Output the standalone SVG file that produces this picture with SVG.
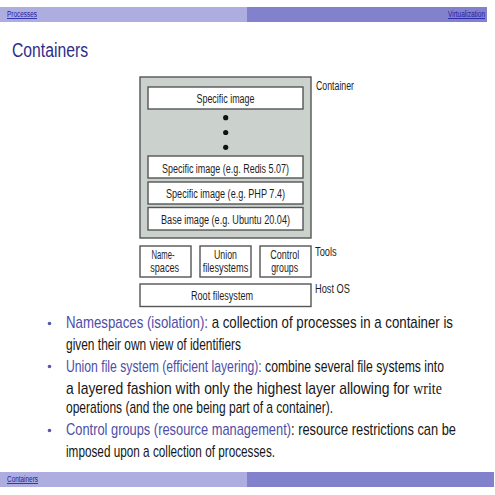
<svg xmlns="http://www.w3.org/2000/svg" width="495" height="495" viewBox="0 0 495 495">
<style>
.bar1{fill:#adaddf}
.bar2{fill:#8282cc}
.nav{font-family:"Liberation Sans",Arial,sans-serif;font-size:8.5px;fill:#2020a8;text-decoration:underline}
.title{font-family:"Liberation Sans",Arial,sans-serif;font-size:20px;fill:#2d2d8a}
.box{fill:#ffffff;stroke:#555555;stroke-width:1.4}
.outer{fill:#cbd2ce;stroke:#555555;stroke-width:1.4}
.bt{font-family:"Liberation Sans",Arial,sans-serif;font-size:12px;fill:#1e1e1e;text-anchor:middle}
.lbl{font-family:"Liberation Sans",Arial,sans-serif;font-size:12px;fill:#1e1e1e}
.txt{font-family:"Liberation Sans",Arial,sans-serif;font-size:16px;fill:#161616}
.hl{fill:#4e4ea6}
.ser{font-family:"Liberation Serif","Times New Roman",serif}
.dot{fill:#111111}
.bul{fill:#5858aa}
</style>
<rect width="495" height="495" fill="#ffffff"/>
<g id="header">
<rect class="bar1" x="0" y="7" width="247" height="15"/>
<rect class="bar2" x="247" y="7" width="240" height="15"/>
<text class="nav" x="7" y="17" textLength="30" lengthAdjust="spacingAndGlyphs">Processes</text>
<text class="nav" x="448" y="17" textLength="37" lengthAdjust="spacingAndGlyphs">Virtualization</text>
</g>
<text class="title" x="12" y="57" textLength="76" lengthAdjust="spacingAndGlyphs">Containers</text>
<g id="container">
<rect class="outer" x="140" y="77" width="171" height="161"/>
</g>
<g id="specific-image">
<rect class="box" x="148" y="87" width="155" height="22"/>
<text class="bt" x="225.5" y="102.5" textLength="58" lengthAdjust="spacingAndGlyphs">Specific image</text>
</g>
<g id="dots">
<circle class="dot" cx="225.7" cy="117.7" r="2.6"/>
<circle class="dot" cx="225.7" cy="132.5" r="2.6"/>
<circle class="dot" cx="225.7" cy="147.3" r="2.6"/>
</g>
<g id="redis">
<rect class="box" x="148" y="156" width="155" height="22"/>
<text class="bt" x="225.5" y="172.5" textLength="127" lengthAdjust="spacingAndGlyphs">Specific image (e.g. Redis 5.07)</text>
</g>
<g id="php">
<rect class="box" x="148" y="182" width="155" height="22"/>
<text class="bt" x="225.5" y="197.8" textLength="119" lengthAdjust="spacingAndGlyphs">Specific image (e.g. PHP 7.4)</text>
</g>
<g id="base">
<rect class="box" x="148" y="207.5" width="155" height="22.5"/>
<text class="bt" x="225.5" y="223.5" textLength="129" lengthAdjust="spacingAndGlyphs">Base image (e.g. Ubuntu 20.04)</text>
</g>
<g id="namespaces">
<rect class="box" x="140" y="246" width="51" height="31"/>
<text class="bt" x="163" y="258.5" textLength="23" lengthAdjust="spacingAndGlyphs">Name-</text>
<text class="bt" x="164.7" y="272" textLength="29" lengthAdjust="spacingAndGlyphs">spaces</text>
</g>
<g id="union">
<rect class="box" x="200" y="246" width="51" height="31"/>
<text class="bt" x="225.5" y="258.5" textLength="23" lengthAdjust="spacingAndGlyphs">Union</text>
<text class="bt" x="225.5" y="272" textLength="45.6" lengthAdjust="spacingAndGlyphs">filesystems</text>
</g>
<g id="control">
<rect class="box" x="260" y="246" width="51" height="31"/>
<text class="bt" x="284.7" y="258.5" textLength="29" lengthAdjust="spacingAndGlyphs">Control</text>
<text class="bt" x="284.7" y="272" textLength="27" lengthAdjust="spacingAndGlyphs">groups</text>
</g>
<g id="root">
<rect class="box" x="140" y="284" width="171" height="22.5"/>
<text class="bt" x="222" y="299.8" textLength="62" lengthAdjust="spacingAndGlyphs">Root filesystem</text>
</g>
<g id="labels">
<text class="lbl" x="316" y="89.5" textLength="38" lengthAdjust="spacingAndGlyphs">Container</text>
<text class="lbl" x="315" y="255.5" textLength="21.7" lengthAdjust="spacingAndGlyphs">Tools</text>
<text class="lbl" x="315" y="292.5" textLength="35" lengthAdjust="spacingAndGlyphs">Host OS</text>
</g>
<g id="connectors"></g>
<g id="bullets">
<circle class="bul" cx="49.5" cy="323.5" r="1.8"/>
<circle class="bul" cx="49.5" cy="366.5" r="1.8"/>
<circle class="bul" cx="49.5" cy="430.5" r="1.8"/>
<g transform="translate(66,0) scale(0.72,1)">
<text class="txt" x="0" y="328.5" textLength="537.5" lengthAdjust="spacingAndGlyphs"><tspan class="hl">Namespaces (isolation):</tspan> a collection of processes in a container is</text>
<text class="txt" x="0" y="350" textLength="243" lengthAdjust="spacingAndGlyphs">given their own view of identifiers</text>
<text class="txt" x="0" y="372" textLength="525" lengthAdjust="spacingAndGlyphs"><tspan class="hl">Union file system (efficient layering):</tspan> combine several file systems into</text>
<text class="txt" x="0" y="394" textLength="522" lengthAdjust="spacingAndGlyphs">a layered fashion with only the highest layer allowing for <tspan class="ser">write</tspan></text>
<text class="txt" x="0" y="413.5" textLength="371" lengthAdjust="spacingAndGlyphs">operations (and the one being part of a container).</text>
<text class="txt" x="0" y="435.5" textLength="541.7" lengthAdjust="spacingAndGlyphs"><tspan class="hl">Control groups (resource management)</tspan>: resource restrictions can be</text>
<text class="txt" x="0" y="457" textLength="290.3" lengthAdjust="spacingAndGlyphs">imposed upon a collection of processes.</text>
</g>
</g>
<g id="footer">
<rect class="bar1" x="0" y="472" width="247" height="15"/>
<rect class="bar2" x="247" y="472" width="247" height="15"/>
<text class="nav" x="7" y="482" textLength="31" lengthAdjust="spacingAndGlyphs">Containers</text>
</g>
</svg>
